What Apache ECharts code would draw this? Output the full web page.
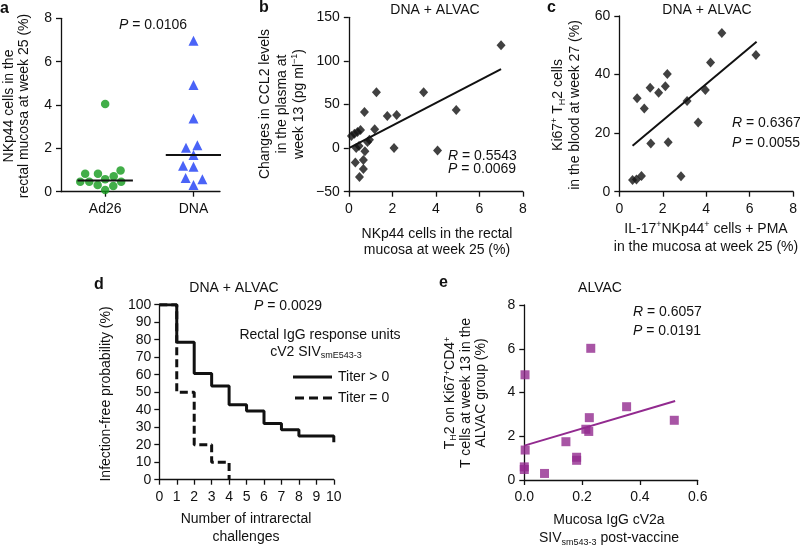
<!DOCTYPE html>
<html><head><meta charset="utf-8">
<script src="https://cdn.jsdelivr.net/npm/echarts@6/dist/echarts.min.js"></script>
<style>html,body{margin:0;padding:0;background:#fff}#c{width:800px;height:548px}</style>
</head><body><div id="c"></div>
<script>
// ---------- DATA ----------
// Panel a
const aCategories = ['Ad26', 'DNA'];
const aAd26 = [4.05, 0.98, 0.83, 0.71, 0.83, 0.58, 0.46, 0.46, 0.46, 0.31, 0.26, 0.08];
const aDNA = [6.97, 4.92, 3.38, 2.14, 2.03, 1.69, 1.20, 1.15, 0.63, 0.57, 0.31];
const aYTicks = [0, 2, 4, 6, 8];
// Panel b
const bX = [7.0, 1.27, 3.44, 4.94, 0.72, 1.77, 2.2, 1.19, 0.12, 0.26, 0.4, 0.54, 0.86, 0.95, 0.47, 0.34, 0.74, 2.08, 4.08, 0.3, 0.67, 0.67, 0.49];
const bY = [118, 64, 64, 43.6, 41.4, 36.8, 38, 21.5, 14, 16.5, 18.5, 20.8, 7, 9.5, 2.4, 0, -3.5, 0, -2.7, -16.5, -13.6, -24, -33];
const bFitX = [0.05, 7.0];      // fitted line as drawn in the figure
const bFitY = [0.5, 90.6];
const bXTicks = [0, 2, 4, 6, 8];
const bYTicks = [-50, 0, 50, 100, 150];
// Panel c
const cX = [4.72, 6.29, 4.2, 2.21, 1.42, 2.12, 1.81, 0.82, 3.96, 3.12, 1.15, 3.63, 1.45, 2.25, 2.84, 1.02, 0.79, 0.61];
const cY = [54.2, 46.7, 44.1, 40.2, 35.5, 36, 33.8, 31.9, 34.7, 31, 28.4, 23.6, 16.5, 16.9, 5.3, 5.4, 4.2, 4.0];
const cFitX = [0.61, 6.32];
const cFitY = [15.7, 51.2];
const cXTicks = [0, 2, 4, 6, 8];
const cYTicks = [0, 20, 40, 60];
// Panel d (Kaplan-Meier, infection-free % after each challenge)
const dChallenges = [0, 1, 2, 3, 4, 5, 6, 7, 8, 9, 10];
const dTiterPos = [100, 78.6, 60.7, 53.6, 42.9, 39.3, 32.1, 28.6, 25, 25, 21.4];
const dTiterZero = [100, 50, 20, 10, 0];
const dLegend = ['Titer > 0', 'Titer = 0'];
const dYTicks = [0, 10, 20, 30, 40, 50, 60, 70, 80, 90, 100];
// Panel e
const eX = [0.23, 0.0025, 0.354, 0.225, 0.519, 0.213, 0.223, 0.144, 0.003, 0.181, 0.181, 0, 0, 0.07];
const eY = [6.02, 4.81, 3.35, 2.85, 2.73, 2.32, 2.22, 1.75, 1.37, 1.04, 0.9, 0.6, 0.48, 0.3];
const eFitX = [0, 0.522];
const eFitY = [1.57, 3.61];
const eXTicks = [0, 0.2, 0.4, 0.6];
const eYTicks = [0, 2, 4, 6, 8];

// ---------- HELPERS ----------
const FONT = '"Liberation Sans", Arial, Helvetica, sans-serif';
const INK = '#111';
const TICKFS = 14;
const G = [
  {left: 61, top: 18.3, width: 159, height: 173.4},
  {left: 348.8, top: 17.3, width: 174, height: 174.4},
  {left: 619.3, top: 16, width: 176.4, height: 175.7},
  {left: 159.3, top: 304.7, width: 174.5, height: 175},
  {left: 524.3, top: 305, width: 173.4, height: 175}
];
function range(t) { return {min: t[0], max: t[t.length - 1], interval: t[1] - t[0]}; }
function vAxis(gi, ticks, fmt, margin) {
  const r = range(ticks);
  return {
    type: 'value', gridIndex: gi, min: r.min, max: r.max, interval: r.interval,
    axisLine: {show: true, onZero: false, lineStyle: {color: INK, width: 1.3}},
    axisTick: {show: true, length: 5, lineStyle: {color: INK, width: 1.3}},
    axisLabel: {color: INK, fontSize: TICKFS, fontFamily: FONT, margin: margin || 8,
      formatter: fmt || (v => (v < 0 ? '\u2212' + Math.abs(v) : String(v)))},
    splitLine: {show: false}
  };
}
function median(v) {
  const s = [...v].sort((p, q) => p - q), m = s.length >> 1;
  return s.length % 2 ? s[m] : (s[m - 1] + s[m]) / 2;
}
// simple beeswarm: offset (px) closest to centre that does not collide
function swarm(values, yPx, d) {
  const order = values.map((_, i) => i).sort((i, j) => values[i] - values[j]);
  const placed = [], off = new Array(values.length);
  let flip = 1;
  for (const i of order) {
    const y = values[i] * yPx;
    const cands = [0];
    const near = placed.filter(p => Math.abs(p.y - y) < d);
    near.forEach(p => { const dx = Math.sqrt(d * d - (p.y - y) ** 2); cands.push(p.x - dx - 0.01, p.x + dx + 0.01); });
    const ok = cands.filter(c => near.every(p => (p.x - c) ** 2 + (p.y - y) ** 2 >= d * d - 0.05));
    ok.sort((p, q) => Math.abs(p) - Math.abs(q) || (p - q) * flip);
    flip = -flip;
    off[i] = ok[0];
    placed.push({x: ok[0], y});
  }
  return off;
}
const zip = (xs, ys) => xs.map((x, i) => [x, ys[i]]);

// ---------- PANEL A layout in data units ----------
const aSlots = 9, aPos = [2, 7];
const aSlotNames = Array.from({length: aSlots}, (_, i) => '_' + i);
aPos.forEach((p, k) => aSlotNames[p] = aCategories[k]);
const aXPx = G[0].width / aSlots, aYPx = G[0].height / (aYTicks[aYTicks.length - 1] - aYTicks[0]);
const aOffA = swarm(aAd26, aYPx, 9), aOffD = swarm(aDNA, aYPx, 10.5);
const aCenterA = aPos[0] + 0.5, aCenterD = aPos[1] + 0.5;
const aPtsA = aAd26.map((v, i) => [aCenterA + aOffA[i] / aXPx, v]);
const aPtsD = aDNA.map((v, i) => [aCenterD + aOffD[i] / aXPx, v]);
const halfW = 1.57;
const medA = median(aAd26), medD = median(aDNA);

// ---------- TEXT ----------
const RICH = {
  i: {fontStyle: 'italic', fontSize: 14, fontFamily: FONT, fill: INK},
  sup: {fontSize: 9, fontFamily: FONT, fill: INK, verticalAlign: 'top'},
  sub: {fontSize: 9, fontFamily: FONT, fill: INK, verticalAlign: 'bottom'}
};
function T(x, y, text, o) {
  o = o || {};
  return {
    type: 'text', x: x, y: y, rotation: o.rot ? Math.PI / 2 : 0, silent: true, z: 50,
    style: {
      text: text, fill: INK, fontSize: o.size || 14, fontFamily: FONT,
      fontWeight: o.bold ? 'bold' : 'normal',
      align: o.align || 'center', verticalAlign: 'middle',
      textAlign: o.align || 'center', textVerticalAlign: 'middle',
      lineHeight: o.lh || 16, rich: RICH
    }
  };
}
function L(x1, x2, y, dash) {
  return {type: 'line', silent: true, z: 50, shape: {x1: x1, y1: y, x2: x2, y2: y},
    style: {stroke: INK, lineWidth: 3, lineDash: dash || null}};
}
const texts = [
  // panel letters
  T(0, 8.5, 'a', {bold: true, size: 16, align: 'left'}),
  T(259, 8, 'b', {bold: true, size: 16, align: 'left'}),
  T(547, 8, 'c', {bold: true, size: 16, align: 'left'}),
  T(94, 285, 'd', {bold: true, size: 16, align: 'left'}),
  T(439, 283, 'e', {bold: true, size: 16, align: 'left'}),
  // a
  T(153, 25, '{i|P} = 0.0106'),
  T(17, 106, 'NKp44 cells in the\nrectal mucosa at week 25 (%)', {rot: true, lh: 15}),
  // b
  T(435, 10, 'DNA + ALVAC'),
  T(282, 104, 'Changes in CCL2 levels\nin the plasma at\nweek 13 (pg ml{sup|\u22121})', {rot: true, lh: 17}),
  T(437, 242, 'NKp44 cells in the rectal\nmucosa at week 25 (%)', {lh: 16}),
  T(448, 156, '{i|R} = 0.5543', {align: 'left'}),
  T(448, 169, '{i|P} = 0.0069', {align: 'left'}),
  // c
  T(707, 10, 'DNA + ALVAC'),
  T(567, 105, 'Ki67{sup|+} T{sub|H}2 cells\nin the blood at week 27 (%)', {rot: true, lh: 17}),
  T(706, 238, 'IL-17{sup|+}NKp44{sup|+} cells + PMA\nin the mucosa at week 25 (%)', {lh: 18}),
  T(732, 123, '{i|R} = 0.6367', {align: 'left'}),
  T(732, 143, '{i|P} = 0.0055', {align: 'left'}),
  // d
  T(234, 288, 'DNA + ALVAC'),
  T(288, 306, '{i|P} = 0.0029'),
  T(106, 394, 'Infection-free probability (%)', {rot: true}),
  T(246, 528, 'Number of intrarectal\nchallenges', {lh: 18}),
  T(320, 335, 'Rectal IgG response units'),
  T(316, 352, 'cV2 SIV{sub|smE543-3}'),
  L(293, 332, 377), T(338, 377, dLegend[0], {align: 'left'}),
  L(295, 333, 398, [9, 5]), T(338, 398, dLegend[1], {align: 'left'}),
  // e
  T(600, 288, 'ALVAC'),
  T(633, 312, '{i|R} = 0.6057', {align: 'left'}),
  T(633, 331, '{i|P} = 0.0191', {align: 'left'}),
  T(466, 393, 'T{sub|H}2 on Ki67{sup|+}CD4{sup|+}\nT cells at week 13 in the\nALVAC group (%)', {rot: true, lh: 15.5}),
  T(609, 529, 'Mucosa IgG cV2a\nSIV{sub|sm543-3} post-vaccine', {lh: 18})
];

// ---------- OPTION ----------
const GREEN = '#139a1b', BLUE = '#1d3cf5', PURPLE = '#922a8f';
const catAxisA = {
  type: 'category', gridIndex: 0, data: aSlotNames, boundaryGap: true,
  axisLine: {show: true, onZero: false, lineStyle: {color: INK, width: 1.3}},
  axisTick: {show: true, length: 5, alignWithLabel: true, interval: (i, v) => !String(v).startsWith('_'), lineStyle: {color: INK, width: 1.3}},
  axisLabel: {color: INK, fontSize: 14, fontFamily: FONT, margin: 10, interval: 0,
    formatter: v => (String(v).startsWith('_') ? '' : v)},
  splitLine: {show: false}
};
const valAxisA = {type: 'value', gridIndex: 0, min: 0, max: aSlots, show: false};
const fmt1 = v => v.toFixed(1);
const lineS = (xi, yi, xs, ys, color, w) => ({type: 'line', xAxisIndex: xi, yAxisIndex: yi, symbol: 'none', silent: true,
  lineStyle: {color: color, width: w || 2}, data: zip(xs, ys), z: 4});
const option = {
  animation: false,
  backgroundColor: '#fff',
  grid: G.map(g => Object.assign({containLabel: false}, g)),
  xAxis: [
    catAxisA, valAxisA,
    vAxis(1, bXTicks, null, 10),
    vAxis(2, cXTicks, null, 10),
    vAxis(3, dChallenges, null, 10),
    vAxis(4, eXTicks, fmt1, 10)
  ],
  yAxis: [
    vAxis(0, aYTicks, null, 9),
    vAxis(1, bYTicks, null, 9),
    vAxis(2, cYTicks, null, 9),
    vAxis(3, dYTicks, null, 8),
    vAxis(4, eYTicks, null, 9)
  ],
  series: [
    // a
    {type: 'scatter', xAxisIndex: 1, yAxisIndex: 0, symbol: 'circle', symbolSize: 8.5, itemStyle: {color: GREEN}, data: aPtsA, z: 3},
    {type: 'scatter', xAxisIndex: 1, yAxisIndex: 0, symbol: 'triangle', symbolSize: 10, itemStyle: {color: BLUE}, data: aPtsD, z: 3},
    lineS(1, 0, [aCenterA - halfW, aCenterA + halfW], [medA, medA], INK),
    lineS(1, 0, [aCenterD - halfW, aCenterD + halfW], [medD, medD], INK),
    // b
    {type: 'scatter', xAxisIndex: 2, yAxisIndex: 1, symbol: 'diamond', symbolSize: [9, 10], itemStyle: {color: INK}, data: zip(bX, bY)},
    lineS(2, 1, bFitX, bFitY, INK),
    // c
    {type: 'scatter', xAxisIndex: 3, yAxisIndex: 2, symbol: 'diamond', symbolSize: [9, 10], itemStyle: {color: INK}, data: zip(cX, cY)},
    lineS(3, 2, cFitX, cFitY, INK),
    // d
    {name: dLegend[1], type: 'line', xAxisIndex: 4, yAxisIndex: 3, step: 'end', symbol: 'none', silent: true,
      lineStyle: {color: INK, width: 3, type: [8, 4]}, data: zip(dChallenges.slice(0, dTiterZero.length), dTiterZero), z: 2},
    {name: dLegend[0], type: 'line', xAxisIndex: 4, yAxisIndex: 3, step: 'end', symbol: 'none', silent: true,
      lineStyle: {color: INK, width: 3}, data: zip(dChallenges, dTiterPos), z: 3},
    // e
    {type: 'scatter', xAxisIndex: 5, yAxisIndex: 4, symbol: 'rect', symbolSize: 9, itemStyle: {color: PURPLE}, data: zip(eX, eY)},
    lineS(5, 4, eFitX, eFitY, PURPLE)
  ],
  graphic: {elements: texts}
};
const chart = echarts.init(document.getElementById('c'), null, {renderer: 'canvas'});
chart.setOption(option);
</script>
</body></html>
